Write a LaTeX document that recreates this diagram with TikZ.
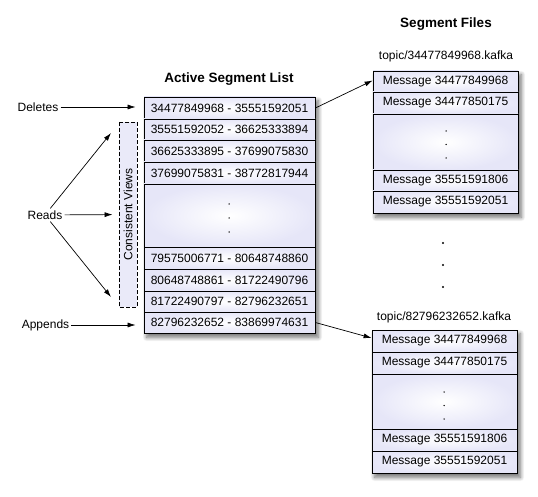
\documentclass[tikz,border=0pt]{standalone}
\usepackage{fontspec}
\setmainfont{Liberation Sans}
\usetikzlibrary{arrows.meta,shadows.blur,backgrounds}
\definecolor{lav}{HTML}{E6E6F8}
\definecolor{cvfill}{HTML}{EAEAF9}
\tikzset{
  lbl/.style={font=\fontsize{12}{14}\selectfont, inner sep=2pt},
  ttl/.style={font=\bfseries\fontsize{13.5}{16}\selectfont, inner sep=1pt},
  cell/.style={draw=black, line width=0.8pt, shading=radial, inner color=white, outer color=lav,
    font=\fontsize{12}{14}\selectfont, inner sep=0pt, minimum width=171pt},
  fcell/.style={cell, minimum width=145pt},
  arr/.style={-{Latex[length=8pt,width=5pt]}, line width=0.7pt},
  cvbox/.style={draw=black, dashed, dash pattern=on 4pt off 2pt, line width=0.8pt, fill=cvfill,
    font=\fontsize{12}{14}\selectfont, inner sep=0pt, rotate=90, minimum width=185pt, minimum height=18pt},
  dotc/.style={fill=black, circle, inner sep=0pt, minimum size=1.5pt},
  bigdot/.style={fill=black, circle, inner sep=0pt, minimum size=2.4pt},
  shad/.style={blur shadow={shadow xshift=3pt, shadow yshift=-4pt, shadow blur steps=10, shadow opacity=55, shadow blur radius=4pt}}
}
\begin{document}
\begin{tikzpicture}[x=1pt,y=-1pt]
\useasboundingbox (0,0) rectangle (538,497);
% titles
\node[ttl] (tlist) at (229,79) {Active Segment List};
\node[ttl] (tfiles) at (446,24) {Segment Files};
% active segment list
\node[cell, minimum height=22pt] (r1) at (229.5,108) {34477849968 - 35551592051};
\node[cell, minimum height=21pt] (r2) at (229.5,129.5) {35551592052 - 36625333894};
\node[cell, minimum height=22pt] (r3) at (229.5,151) {36625333895 - 37699075830};
\node[cell, minimum height=22pt] (r4) at (229.5,173) {37699075831 - 38772817944};
\node[cell, minimum height=63pt] (rd) at (229.5,215.5) {};
\node[cell, minimum height=22pt] (r5) at (229.5,258) {79575006771 - 80648748860};
\node[cell, minimum height=22pt] (r6) at (229.5,280) {80648748861 - 81722490796};
\node[cell, minimum height=21pt] (r7) at (229.5,301.5) {81722490797 - 82796232651};
\node[cell, minimum height=21pt] (r8) at (229.5,322.5) {82796232652 - 83869974631};
\node[dotc] (rd1) at (229,204) {};
\node[dotc] (rd2) at (229,218) {};
\node[dotc] (rd3) at (229,232) {};
% consistent views
\node[cvbox] (cv) at (128,214.5) {Consistent Views};
\coordinate (cvtop) at (111,133);
\coordinate (cvbot) at (111,297);
% left labels
\node[lbl] (del) at (38,107) {Deletes};
\node[lbl] (reads) at (45,215) {Reads};
\node[lbl] (app) at (45.5,325) {Appends};
\draw[arr, shorten >=8pt] (del) -- (del -| r1.west);
\draw[arr, shorten >=6pt] (reads) -- (cv);
\draw[arr] (reads) -- (cvtop);
\draw[arr] (reads) -- (cvbot);
\draw[arr, shorten >=8pt] (app) -- (app -| r8.west);
% segment file 1
\node[lbl] (topic1) at (446,56) {topic/34477849968.kafka};
\node[fcell, minimum height=21pt] (fa1) at (445.5,81.5) {Message 34477849968};
\node[fcell, minimum height=22pt] (fa2) at (445.5,103) {Message 34477850175};
\node[fcell, minimum height=56pt] (fad) at (445.5,142) {};
\node[fcell, minimum height=21pt] (fa3) at (445.5,180.5) {Message 35551591806};
\node[fcell, minimum height=22pt] (fa4) at (445.5,202) {Message 35551592051};
\node[dotc] (fad1) at (446,131) {};
\node[dotc] (fad2) at (446,144.5) {};
\node[dotc] (fad3) at (446,158) {};
% between dots
\node[bigdot] (bd1) at (443,243) {};
\node[bigdot] (bd2) at (443,265) {};
\node[bigdot] (bd3) at (443,287) {};
% segment file 2
\node[lbl] (topic2) at (444,317) {topic/82796232652.kafka};
\node[fcell, minimum height=22pt] (fb1) at (444.5,341) {Message 34477849968};
\node[fcell, minimum height=22pt] (fb2) at (444.5,363) {Message 34477850175};
\node[fcell, minimum height=55pt] (fbd) at (444.5,401.5) {};
\node[fcell, minimum height=22pt] (fb3) at (444.5,440) {Message 35551591806};
\node[fcell, minimum height=22pt] (fb4) at (444.5,462) {Message 35551592051};
\node[dotc] (fbd1) at (444,392) {};
\node[dotc] (fbd2) at (444,405.5) {};
\node[dotc] (fbd3) at (444,419) {};
% connectors to files
\draw[arr] (r1.east) -- ([yshift=1pt]fa1.west);
\draw[arr] (r8.east) -- ([yshift=3pt]fb1.west);
% shadows
\begin{scope}[on background layer]
\path[shad] (r1.north west) rectangle (r8.south east);
\path[shad] (fa1.north west) rectangle (fa4.south east);
\path[shad] (fb1.north west) rectangle (fb4.south east);
\end{scope}
\end{tikzpicture}
\end{document}
